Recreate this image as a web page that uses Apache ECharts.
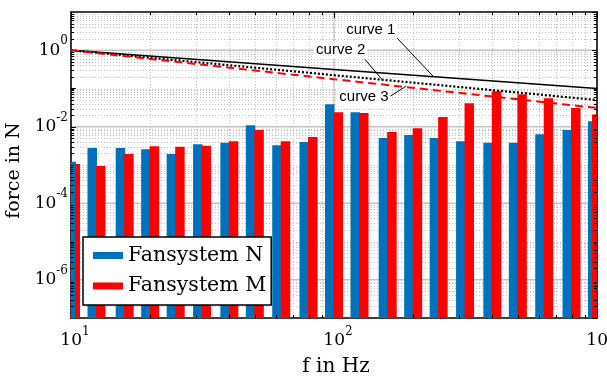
<!DOCTYPE html>
<html>
<head>
<meta charset="utf-8">
<script src="https://cdn.jsdelivr.net/npm/echarts@6/dist/echarts.min.js"></script>
<style>
html, body { margin: 0; padding: 0; background: #fff; }
#chart { width: 607px; height: 376px; }
</style>
</head>
<body>
<div id="chart"></div>
<script>
// third-octave band centres in Hz
const bands = [10, 12.5, 16, 20, 25, 31.5, 40, 50, 63, 80, 100, 125, 160, 200, 250, 315, 400, 500, 630, 800, 1000];
const fanN = [1.22e-3, 2.8e-3, 2.8e-3, 2.6e-3, 1.95e-3, 3.5e-3, 3.8e-3, 1.1e-2, 3.3e-3, 4.0e-3, 3.9e-2,
  2.4e-2, 5.1e-3, 6.1e-3, 5.1e-3, 4.2e-3, 3.8e-3, 3.8e-3, 6.4e-3, 8.2e-3, 1.4e-2];
const fanM = [1.06e-3, 9.4e-4, 1.95e-3, 3.1e-3, 3.0e-3, 3.2e-3, 4.2e-3, 8.2e-3, 4.2e-3, 5.4e-3, 2.4e-2,
  2.3e-2, 7.3e-3, 9.2e-3, 1.8e-2, 4.1e-2, 8.5e-2, 7.1e-2, 5.6e-2, 3.1e-2, 2.1e-2];

const curveFreq = [10, 100, 1000];
const curve1 = [1.0, 0.316, 0.1];
const curve2 = [1.0, 0.223, 0.05];
const curve3 = [1.0, 0.175, 0.031];

// annotation anchors, in data units (Hz, N)
const curveNames = ["curve 1", "curve 2", "curve 3"];
const labelAt = [[138, 3.5], [106, 1.0], [130, 0.06]];
const leaderFrom = [[174, 2.06], [131, 0.58], [162, 0.06]];
const leaderTo = [[238, 0.21], [153, 0.165], [188, 0.115]];

const xMin = 10, xMax = 1000, yMin = 1e-7, yMax = 10;
const xMajor = [10, 100, 1000];
const yMajor = [1e-6, 1e-4, 1e-2, 1];

const serif = "DejaVu Serif";
const sans = "Liberation Sans";

function minorList(lo, hi, skipMajor) {
  const out = [];
  for (let d = lo; d < hi; d *= 10) {
    for (let m = 1; m <= 9; m++) {
      const v = m * d;
      if (v <= lo || v >= hi) continue;
      if (skipMajor.some((s) => Math.abs(s - v) / s < 1e-6)) continue;
      out.push(v);
    }
  }
  return out;
}
const xMinor = minorList(xMin, xMax, xMajor);
const yMinor = minorList(yMin, yMax, yMajor);

const minorGrid = { stroke: "#c0c0c0", lineWidth: 1, lineDash: [1, 2] };
const majorGrid = { stroke: "#c2c2c2", lineWidth: 1.3 };

function renderGrid(params, api) {
  const cs = params.coordSys;
  const l = cs.x, r = cs.x + cs.width, t = cs.y, b = cs.y + cs.height;
  const kids = [];
  xMinor.forEach((f) => {
    const x = Math.round(api.coord([f, 1])[0]) + 0.5;
    kids.push({ type: "line", shape: { x1: x, y1: t, x2: x, y2: b }, style: minorGrid });
  });
  yMinor.forEach((v) => {
    const y = Math.round(api.coord([10, v])[1]) + 0.5;
    kids.push({ type: "line", shape: { x1: l, y1: y, x2: r, y2: y }, style: minorGrid });
  });
  xMajor.forEach((f) => {
    const x = api.coord([f, 1])[0];
    kids.push({ type: "line", shape: { x1: x, y1: t, x2: x, y2: b }, style: majorGrid });
  });
  yMajor.forEach((v) => {
    const y = api.coord([10, v])[1];
    kids.push({ type: "line", shape: { x1: l, y1: y, x2: r, y2: y }, style: majorGrid });
  });
  return { type: "group", children: kids };
}

function renderTicks(params, api) {
  const cs = params.coordSys;
  const l = cs.x, r = cs.x + cs.width, t = cs.y, b = cs.y + cs.height;
  const st = { stroke: "#000", lineWidth: 1 };
  const len = 3;
  const kids = [];
  xMinor.forEach((f) => {
    const x = Math.round(api.coord([f, 1])[0]) + 0.5;
    kids.push({ type: "line", shape: { x1: x, y1: b, x2: x, y2: b - len }, style: st });
    kids.push({ type: "line", shape: { x1: x, y1: t, x2: x, y2: t + len }, style: st });
  });
  yMinor.forEach((v) => {
    const y = Math.round(api.coord([10, v])[1]) + 0.5;
    kids.push({ type: "line", shape: { x1: l, y1: y, x2: l + len, y2: y }, style: st });
    kids.push({ type: "line", shape: { x1: r, y1: y, x2: r - len, y2: y }, style: st });
  });
  return { type: "group", children: kids };
}

// bar pair around each band centre, squeezed inside the plot at the edges
const halfGroup = 9;
function barRenderer(side) {
  return function (params, api) {
    const cs = params.coordSys;
    const f = api.value(0), v = api.value(1);
    const top = api.coord([f, v]);
    const base = api.coord([f, yMin]);
    const gL = Math.max(top[0] - halfGroup, cs.x);
    const gR = Math.min(top[0] + halfGroup, cs.x + cs.width);
    const mid = (gL + gR) / 2;
    const x0 = side === 0 ? gL : mid - 0.5;
    const x1 = side === 0 ? mid + 0.5 : gR;
    return {
      type: "rect",
      shape: { x: x0, y: top[1], width: x1 - x0, height: base[1] - top[1] },
      style: { fill: api.visual("color") },
    };
  };
}

function powLabel(value) {
  const e = Math.round(Math.log10(value));
  return "{b|10}{s|" + e + "}";
}
const powRichY = {
  b: { fontFamily: serif, fontSize: 17, lineHeight: 30, verticalAlign: "middle", color: "#000" },
  s: { fontFamily: serif, fontSize: 12, lineHeight: 11, verticalAlign: "top", color: "#000" },
};
const powRichX = {
  b: { fontFamily: serif, fontSize: 17, lineHeight: 30, verticalAlign: "middle", color: "#000", padding: [0, 0, 0, 8] },
  s: { fontFamily: serif, fontSize: 12, lineHeight: 11, verticalAlign: "top", color: "#000" },
};

function annot(i) {
  return {
    silent: true,
    symbol: "circle",
    symbolSize: 1,
    itemStyle: { color: "rgba(0,0,0,0)" },
    label: {
      show: true,
      position: "inside",
      formatter: curveNames[i],
      fontFamily: sans,
      fontSize: 15,
      color: "#000",
      backgroundColor: "#fff",
      padding: [1, 2],
    },
    data: [{ coord: labelAt[i] }],
  };
}
function leader(i) {
  return {
    silent: true,
    symbol: ["none", "none"],
    lineStyle: { color: "#000", width: 1, type: "solid" },
    label: { show: false },
    emphasis: { disabled: true },
    data: [[{ coord: leaderFrom[i] }, { coord: leaderTo[i] }]],
  };
}

const frame = { lineStyle: { color: "#000", width: 1.5 } };
const chart = echarts.init(document.getElementById("chart"));
chart.setOption({
  animation: false,
  grid: { left: 71, right: 10, top: 12, bottom: 58, outerBoundsMode: "none", containLabel: false },
  xAxis: [
    {
      type: "log", logBase: 10, min: xMin, max: xMax,
      name: "f in Hz", nameLocation: "middle", nameGap: 39,
      nameTextStyle: { fontFamily: serif, fontSize: 20, color: "#000", padding: [0, 0, 0, 4] },
      axisLine: frame,
      axisTick: { inside: true, length: 6, lineStyle: { color: "#000" } },
      axisLabel: { formatter: powLabel, rich: powRichX, margin: 8 },
      splitLine: { show: false },
    },
    {
      type: "log", logBase: 10, min: xMin, max: xMax, position: "top",
      axisLine: frame,
      axisTick: { inside: true, length: 6, lineStyle: { color: "#000" } },
      axisLabel: { show: false },
      splitLine: { show: false },
    },
  ],
  yAxis: [
    {
      type: "log", logBase: 10, min: yMin, max: yMax, splitNumber: 8,
      name: "force in N", nameLocation: "middle", nameGap: 39, nameRotate: 90,
      nameTextStyle: { fontFamily: serif, fontSize: 19, color: "#000", padding: [0, 11, 0, 0] },
      axisLine: frame,
      axisTick: { inside: true, length: 5, lineStyle: { color: "#000" } },
      axisLabel: {
        formatter: (v) => (Math.round(Math.log10(v)) % 2 === 0 ? powLabel(v) : ""),
        rich: powRichY, margin: 3, showMinLabel: false, showMaxLabel: false,
      },
      splitLine: { show: false },
    },
    {
      type: "log", logBase: 10, min: yMin, max: yMax, splitNumber: 8, position: "right",
      axisLine: frame,
      axisTick: { inside: true, length: 5, lineStyle: { color: "#000" } },
      axisLabel: { show: false },
      splitLine: { show: false },
    },
  ],
  legend: {
    data: ["Fansystem N", "Fansystem M"],
    orient: "vertical",
    left: 83, top: 237,
    padding: [6.5, 5, 7, 10],
    itemWidth: 30, itemHeight: 7, itemGap: 6.5,
    icon: "rect",
    backgroundColor: "#fff",
    borderColor: "#000", borderWidth: 1.5, borderRadius: 0,
    textStyle: { fontFamily: serif, fontSize: 20.5, lineHeight: 24, color: "#000" },
    selectedMode: false,
  },
  series: [
    { type: "custom", name: "grid", silent: true, z: 0, renderItem: renderGrid, data: [[10, 1]] },
    {
      type: "custom", name: "Fansystem N", z: 2, clip: false,
      itemStyle: { color: "#0072bd" },
      renderItem: barRenderer(0),
      data: bands.map((f, i) => [f, fanN[i]]),
    },
    {
      type: "custom", name: "Fansystem M", z: 2, clip: false,
      itemStyle: { color: "#ff0000" },
      renderItem: barRenderer(1),
      data: bands.map((f, i) => [f, fanM[i]]),
    },
    { type: "custom", name: "ticks", silent: true, z: 8, renderItem: renderTicks, data: [[10, 1]] },
    {
      type: "line", name: "curve 1", z: 5, showSymbol: false, symbol: "none",
      lineStyle: { color: "#000", width: 1.5 },
      data: curveFreq.map((f, i) => [f, curve1[i]]),
      markPoint: annot(0), markLine: leader(0),
    },
    {
      type: "line", name: "curve 2", z: 5, showSymbol: false, symbol: "none",
      lineStyle: { color: "#000", width: 2.2, type: [2, 2] },
      data: curveFreq.map((f, i) => [f, curve2[i]]),
      markPoint: annot(1), markLine: leader(1),
    },
    {
      type: "line", name: "curve 3", z: 5, showSymbol: false, symbol: "none",
      lineStyle: { color: "#ff0000", width: 2, type: [8, 5] },
      data: curveFreq.map((f, i) => [f, curve3[i]]),
      markPoint: annot(2), markLine: leader(2),
    },
  ],
});
</script>
</body>
</html>
